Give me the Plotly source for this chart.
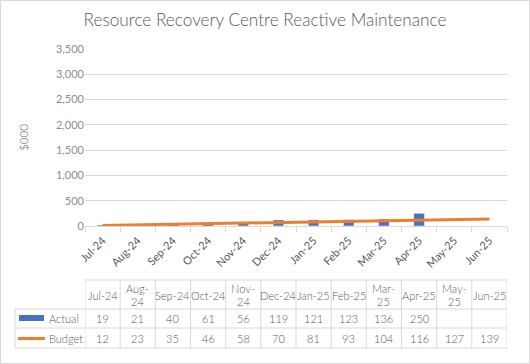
import plotly.graph_objects as go

months = ["Jul-24", "Aug-24", "Sep-24", "Oct-24", "Nov-24", "Dec-24",
          "Jan-25", "Feb-25", "Mar-25", "Apr-25", "May-25", "Jun-25"]
header_top = ["Jul-24", "Aug-", "Sep-24", "Oct-24", "Nov-", "Dec-24",
              "Jan-25", "Feb-25", "Mar-", "Apr-25", "May-", "Jun-25"]
header_bottom = ["", "24", "", "", "24", "", "", "", "25", "", "25", ""]
actual = [19, 21, 40, 61, 56, 119, 121, 123, 136, 250, None, None]
budget = [12, 23, 35, 46, 58, 70, 81, 93, 104, 116, 127, 139]
y_ticks = [0, 500, 1000, 1500, 2000, 2500, 3000, 3500]

W, H = 530, 364
L, R, T, B = 85, 23, 49, 138
ph = H - T - B
pw = W - L - R

def py(px):  # pixel y -> paper y
    return (H - B - px) / ph

def pxx(px):
    return (px - L) / pw

FONT = "Lato, 'Open Sans', sans-serif"
GRID = "#D9D9D9"
TXT = "#595959"
BLUE = "#4472C4"
ORANGE = "#ED7D31"

fig = go.Figure()
fig.add_trace(go.Bar(x=months, y=actual, name="Actual", marker_color=BLUE, width=0.3))
fig.add_trace(go.Scatter(x=months, y=budget, name="Budget", mode="lines",
                         line=dict(color=ORANGE, width=3)))

shapes = []
annotations = []
n = len(months)
y_head_top, y_head_bot, y_r1, y_r2 = py(280), py(309), py(328), py(348)
x_left = pxx(15)

shapes.append(dict(type="line", xref="x", yref="paper", x0=-0.5, x1=n - 0.5,
                   y0=y_head_top, y1=y_head_top, line=dict(color=GRID, width=1)))
for yy in (y_head_bot, y_r1, y_r2):
    shapes.append(dict(type="line", xref="paper", yref="paper", x0=x_left, x1=1,
                       y0=yy, y1=yy, line=dict(color=GRID, width=1)))
for i in range(n + 1):
    shapes.append(dict(type="line", xref="x", yref="paper", x0=i - 0.5, x1=i - 0.5,
                       y0=y_head_top, y1=y_r2, line=dict(color=GRID, width=1)))
shapes.append(dict(type="line", xref="paper", yref="paper", x0=x_left, x1=x_left,
                   y0=y_head_bot, y1=y_r2, line=dict(color=GRID, width=1)))
shapes.append(dict(type="rect", xref="paper", yref="paper", x0=pxx(19), x1=pxx(44),
                   y0=py(321), y1=py(315), fillcolor=BLUE, line=dict(width=0)))
shapes.append(dict(type="line", xref="paper", yref="paper", x0=pxx(18), x1=pxx(45),
                   y0=py(338.5), y1=py(338.5), line=dict(color=ORANGE, width=3)))

fs = 11
def ann(x, y, text, xref="x", xanchor="center"):
    annotations.append(dict(x=x, y=y, xref=xref, yref="paper", text=text, showarrow=False,
                            xanchor=xanchor, yanchor="middle",
                            font=dict(size=fs, color=TXT, family=FONT, weight=300)))

for i in range(n):
    if header_bottom[i]:
        ann(i, py(288), header_top[i])
        ann(i, py(301), header_bottom[i])
    else:
        ann(i, py(295), header_top[i])
    if actual[i] is not None:
        ann(i, py(318.5), str(actual[i]))
    ann(i, py(338), str(budget[i]))
ann(pxx(47), py(318.5), "Actual", xref="paper", xanchor="left")
ann(pxx(47), py(338), "Budget", xref="paper", xanchor="left")

shapes.append(dict(type="rect", xref="paper", yref="paper", x0=pxx(0.5), x1=pxx(W - 0.5),
                   y0=py(0.5), y1=py(H - 0.5), line=dict(color=GRID, width=1), layer="below"))

fig.update_layout(
    width=W, height=H,
    margin=dict(l=L, r=R, t=T, b=B),
    paper_bgcolor="white", plot_bgcolor="white",
    showlegend=False,
    title=dict(text="Resource Recovery Centre Reactive Maintenance", x=0.5, xref="container",
               y=1 - 20 / H, yanchor="middle", xanchor="center",
               font=dict(size=17.2, color=TXT, family=FONT, weight=300)),
    font=dict(family=FONT, color=TXT),
    xaxis=dict(range=[-0.5, n - 0.5], tickangle=-45, tickson="boundaries",
               ticks="outside", ticklen=5, tickcolor=GRID, showline=True,
               linecolor=GRID, showgrid=False, automargin=False, ticklabelstandoff=3,
               tickfont=dict(size=fs, color=TXT)),
    yaxis=dict(range=[0, 3500], tickvals=y_ticks, tickformat=",", showgrid=True,
               gridcolor=GRID, zeroline=False, showline=False, ticks="",
               automargin=False, tickfont=dict(size=11, color="#8C8C8C"),
               title=dict(text="$000", font=dict(size=11.5, color=TXT, weight=300), standoff=24)),
    shapes=shapes, annotations=annotations,
)
fig.write_html("out.html", post_script="document.body.style.margin='0';",
               config={"displayModeBar": False})
